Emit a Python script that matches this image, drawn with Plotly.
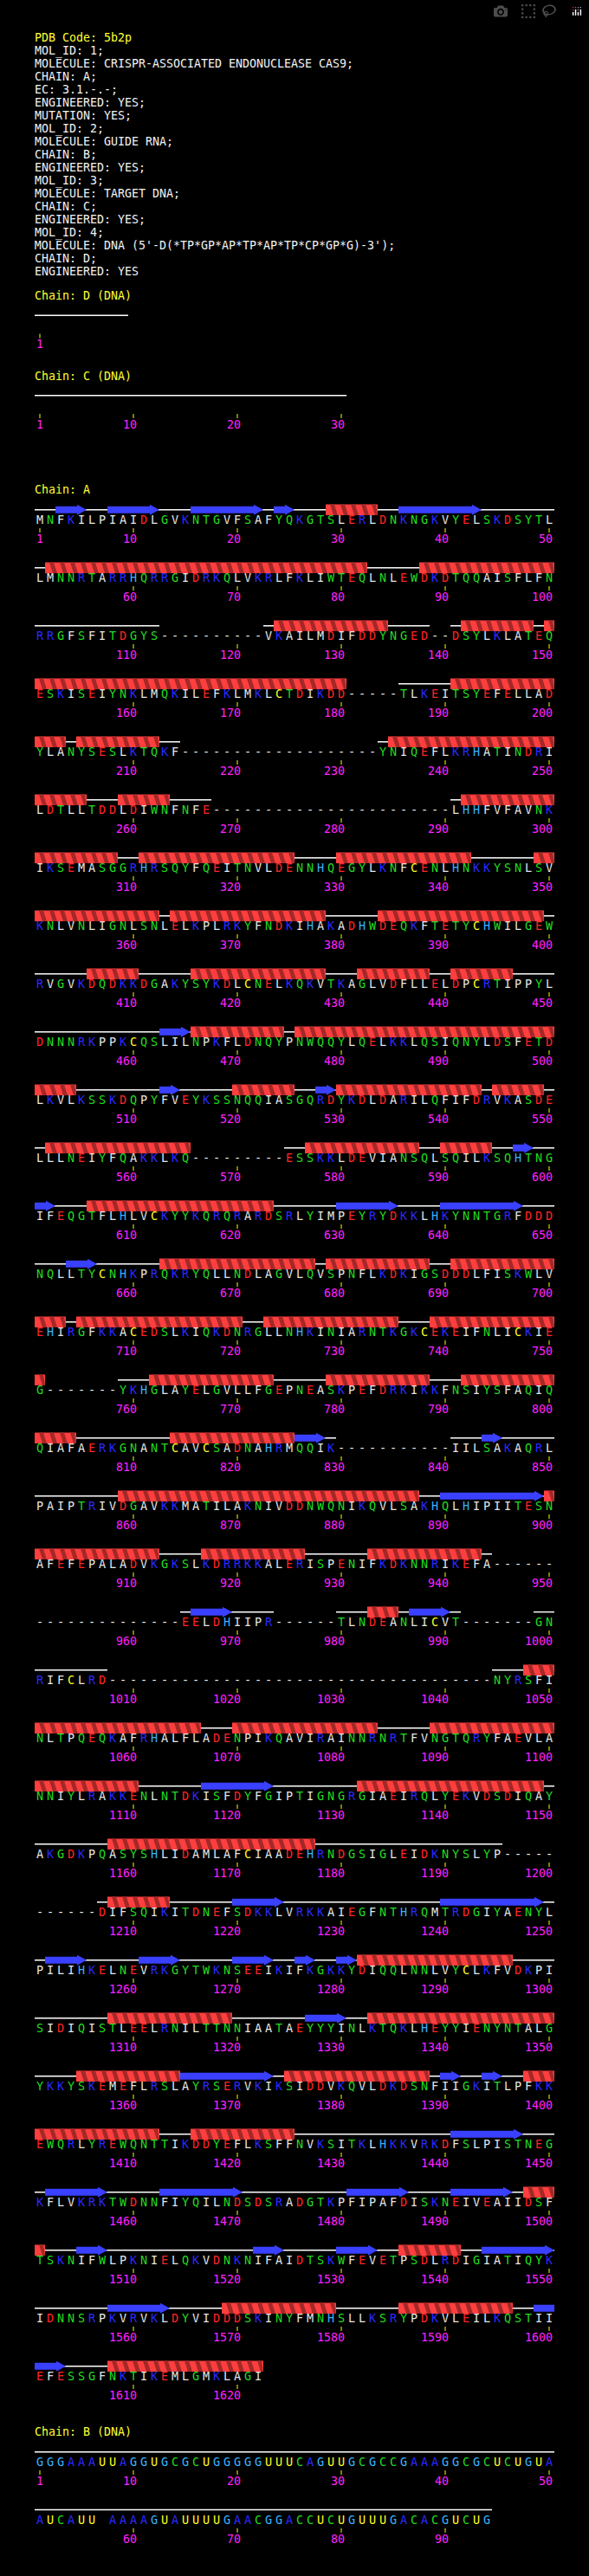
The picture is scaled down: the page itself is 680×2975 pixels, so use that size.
import plotly.graph_objects as go

pdb_code = "5b2p"
header_lines = [
    "MOL_ID: 1;",
    "MOLECULE: CRISPR-ASSOCIATED ENDONUCLEASE CAS9;",
    "CHAIN: A;",
    "EC: 3.1.-.-;",
    "ENGINEERED: YES;",
    "MUTATION: YES;",
    "MOL_ID: 2;",
    "MOLECULE: GUIDE RNA;",
    "CHAIN: B;",
    "ENGINEERED: YES;",
    "MOL_ID: 3;",
    "MOLECULE: TARGET DNA;",
    "CHAIN: C;",
    "ENGINEERED: YES;",
    "MOL_ID: 4;",
    "MOLECULE: DNA (5'-D(*TP*GP*AP*TP*AP*TP*CP*GP*G)-3');",
    "CHAIN: D;",
    "ENGINEERED: YES",
]

# chain A, 50 residues per row, '-' = residue not seen in the structure
chain_a_rows = [
    "MNFKILPIAIDLGVKNTGVFSAFYQKGTSLERLDNKNGKVYELSKDSYTL",
    "LMNNRTARRHQRRGIDRKQLVKRLFKLIWTEQLNLEWDKDTQQAISFLFN",
    "RRGFSFITDGYS" + "-" * 10 + "VKAILMDIFDDYNGED" + "--" + "DSYLKLATEQ",
    "ESKISEIYNKLMQKILEFKLMKLCTDIKDD" + "-" * 5 + "TLKEITSYEFELLAD",
    "YLANYSESLKTQKF" + "-" * 19 + "YNIQEFLKRHATINDRI",
    "LDTLLTDDLDIWNFNFE" + "-" * 23 + "LHHFVFAVNK",
    "IKSEMASGGRHRSQYFQEITNVLDENNHQEGYLKNFCENLHNKKYSNLSV",
    "KNLVNLIGNLSNLELKPLRKYFNDKIHAKADHWDEQKFTETYCHWILGEW",
    "RVGVKDQDKKDGAKYSYKDLCNELKQKVTKAGLVDFLLELDPCRTIPPYL",
    "DNNNRKPPKCQSLILNPKFLDNQYPNWQQYLQELKKLQSIQNYLDSFETD",
    "LKVLKSSKDQPYFVEYKSSNQQIASGQRDYKDLDARILQFIFDRVKASDE",
    "LLLNEIYFQAKKLKQ" + "-" * 9 + "ESSKKLDEVIANSQLSQILKSQHTNG",
    "IFEQGTFLHLVCKYYKQRQRARDSRLYIMPEYRYDKKLHKYNNTGRFDDD",
    "NQLLTYCNHKPRQKRYQLLNDLAGVLQVSPNFLKDKIGSDDDLFISKWLV",
    "EHIRGFKKACEDSLKIQKDNRGLLNHKINIARNTKGKCEKEIFNLICKIE",
    "G" + "-" * 7 + "YKHGLAYELGVLLFGEPNEASKPEFDRKIKKFNSIYSFAQIQ",
    "QIAFAERKGNANTCAVCSADNAHRMQQIK" + "-" * 11 + "IILSAKAQRL",
    "PAIPTRIVDGAVKKMATILAKNIVDDNWQNIKQVLSAKHQLHIPIITESN",
    "AFEFEPALADVKGKSLKDRRKKALERISPENIFKDKNNRIKEFA" + "-" * 6,
    "-" * 14 + "EELDHIIPR" + "-" * 6 + "TLNDEANLICVT" + "-" * 7 + "GN",
    "RIFCLRD" + "-" * 37 + "NYRSFI",
    "NLTPQEQKAFRHALFLADENPIKQAVIRAINNRNRTFVNGTQRYFAEVLA",
    "NNIYLRAKKENLNTDKISFDYFGIPTIGNGRGIAEIRQLYEKVDSDIQAY",
    "AKGDKPQASYSHLIDAMLAFCIAADEHRNDGSIGLEIDKNYSLYP" + "-" * 5,
    "-" * 6 + "DIFSQIKITDNEFSDKKLVRKKAIEGFNTHRQMTRDGIYAENYL",
    "PILIHKELNEVRKGYTWKNSEEIKIFKGKKYDIQQLNNLVYCLKFVDKPI",
    "SIDIQISTLEELRNILTTNNIAATAEYYYINLKTQKLHEYYIENYNTALG",
    "YKKYSKEMEFLRSLAYRSERVKIKSIDDVKQVLDKDSNFIIGKITLPFKK",
    "EWQRLYREWQNTTIKDDYEFLKSFFNVKSITKLHKKVRKDFSLPISTNEG",
    "KFLVKRKTWDNNFIYQILNDSDSRADGTKPFIPAFDISKNEIVEAIIDSF",
    "TSKNIFWLPKNIELQKVDNKNIFAIDTSKWFEVETPSDLRDIGIATIQYK",
    "IDNNSRPKVRVKLDYVIDDDSKINYFMNHSLLKSRYPDKVLEILKQSTII",
    "EFESSGFNKTIKEMLGMKLAGI",
]

# secondary structure of chain A (first, last residue)
chain_a_helices = [
    (29, 33), (52, 82), (88, 100), (124, 134), (142, 148), (150, 180), (191, 203),
    (205, 212), (235, 255), (259, 263), (292, 308), (311, 325), (330, 342), (349, 362),
    (364, 378), (384, 399), (406, 410), (416, 428), (432, 438), (441, 446), (466, 474),
    (476, 504), (520, 525), (530, 543), (545, 549), (552, 565), (577, 587), (590, 594),
    (606, 623), (663, 677), (679, 688), (691, 703), (705, 720), (723, 735), (739, 751),
    (762, 773), (779, 788), (792, 804), (814, 825), (859, 887), (900, 912), (917, 926),
    (933, 943), (983, 985), (1048, 1066), (1070, 1083), (1089, 1110), (1132, 1149),
    (1158, 1177), (1208, 1213), (1282, 1296), (1308, 1319), (1333, 1350), (1355, 1364),
    (1375, 1388), (1398, 1412), (1416, 1425), (1498, 1501), (1536, 1541), (1569, 1579),
    (1586, 1596), (1608, 1622),
]
chain_a_strands = [
    (3, 5), (8, 12), (16, 22), (24, 25), (36, 43), (463, 465), (513, 514), (528, 529),
    (597, 598), (601, 602), (630, 635), (640, 647), (654, 656), (826, 828), (844, 845),
    (890, 899), (966, 969), (987, 990), (1117, 1123), (1220, 1224), (1240, 1249),
    (1252, 1255), (1261, 1264), (1270, 1273), (1276, 1277), (1280, 1281), (1327, 1330),
    (1365, 1373), (1390, 1391), (1394, 1395), (1441, 1447), (1452, 1457), (1463, 1470),
    (1481, 1486), (1491, 1496), (1505, 1507), (1522, 1524), (1530, 1533), (1544, 1550),
    (1558, 1563), (1599, 1603),
]

# guide RNA (position 57 has no letter)
chain_b_seq = ("GGGAAAUUAGGUGCGCUGGGGGUUUCAGUUGCGCCGAAAGGCGCUCUGUA"
               "AUCAUU AAAAGUAUUUUGAACGGACCUCUGUUUGACACGUCUG")
chain_c_length = 30
chain_d_seq = "TGATATCGG"

aa_colors = {
    "#e6e6e6": "AVLIMFP",
    "#22dd22": "GSTNQYW",
    "#2a2aff": "KR",
    "#ff2424": "DE",
    "#36b4ff": "H",
    "#ffff22": "C",
}
nt_colors = {"A": "#2a2aff", "G": "#36b4ff", "U": "#ffff22", "C": "#22dd22", "T": "#ffff22"}

# layout of the page (pixels)
W, H = 680, 2975
X0, CELL, PER_ROW, ROW_H = 40, 12, 50, 67
MID = 13.3  # ribbon centre above the letter row
YELLOW, WHITE, MAGENTA = "#ffff33", "#f2f2f2", "#ff22ff"
HELIX_LIGHT, HELIX_DARK, STRAND_BLUE = "#ff3e3e", "#a32828", "#3a40ff"

coil_x, coil_y = [], []
band_x, band_y = [], []
stripe_x, stripe_y = [], []
arrow_x, arrow_y = [], []
tick_x, tick_y = [], []
let_x, let_y, let_t, let_c = [], [], [], []
num_x, num_y, num_t = [], [], []
txt_x, txt_y, txt_t, txt_c = [], [], [], []


def poly(xs, ys, px, py):
    xs += list(px) + [px[0], None]
    ys += list(py) + [py[0], None]


def add_text(s, x_left, y, color):
    txt_x.append(x_left + len(s) * 4)
    txt_y.append(y)
    txt_t.append(s)
    txt_c.append(color)


def helix(xa, xb, L):
    top, bot = L - MID - 6.3, L - MID + 6.3
    poly(band_x, band_y, [xa, xb, xb, xa], [top, top, bot, bot])
    c = xa
    while c < xb:
        px = [min(c + 5, xb), min(c + 10, xb), min(c + 14, xb), min(c + 9, xb)]
        poly(stripe_x, stripe_y, px, [top, top, bot, bot])
        c += CELL


def strand(xa, xb, L, head):
    y0 = L - MID
    if head:
        hx = xb - 11
        poly(arrow_x, arrow_y,
             [xa, hx, hx, xb, hx, hx, xa],
             [y0 - 4, y0 - 4, y0 - 6, y0, y0 + 6, y0 + 4, y0 + 4])
    else:
        poly(arrow_x, arrow_y, [xa, xb, xb, xa], [y0 - 4, y0 - 4, y0 + 4, y0 + 4])


def add_chain(n, first_L, ss, letters=None, colors=None, row_h=ROW_H):
    for r in range((n + PER_ROW - 1) // PER_ROW):
        L = first_L + r * row_h
        lo, hi = r * PER_ROW, min(n, (r + 1) * PER_ROW)
        k = lo
        while k < hi:
            if ss[k] == " ":
                k += 1
                continue
            j = k
            while j + 1 < hi and ss[j + 1] != " ":
                j += 1
            coil_x.extend([X0 + CELL * (k - lo), X0 + CELL * (j - lo + 1), None])
            coil_y.extend([L - MID, L - MID, None])
            k = j + 1
        k = lo
        while k < hi:
            t = ss[k]
            if t not in "HE":
                k += 1
                continue
            j = k
            while j + 1 < hi and ss[j + 1] == t:
                j += 1
            xa, xb = X0 + CELL * (k - lo), X0 + CELL * (j - lo + 1)
            if t == "H":
                helix(xa, xb, L)
            else:
                strand(xa, xb, L, j + 1 >= n or ss[j + 1] != "E")
            k = j + 1
        for k in range(lo, hi):
            x = X0 + CELL * (k - lo) + CELL / 2
            if letters is not None and letters[k] != " ":
                let_x.append(x)
                let_y.append(L)
                let_t.append(letters[k])
                let_c.append(colors[k])
            num = k + 1
            if num == 1 or num % 10 == 0:
                tick_x.extend([x, x, None])
                tick_y.extend([L + 8, L + 13, None])
                lab = str(num)
                num_x.append(x + 4 - 4 * len(lab))
                num_y.append(L + 21.5)
                num_t.append(lab)


# header
add_text("PDB Code: " + pdb_code, X0, 45, YELLOW)
for i, line in enumerate(header_lines):
    add_text(line, X0, 60 + 15 * i, WHITE)

# chain D
add_text("Chain: D (DNA)", X0, 343, YELLOW)
add_chain(len(chain_d_seq), 377.5, "-" * len(chain_d_seq))

# chain C
add_text("Chain: C (DNA)", X0, 436, YELLOW)
add_chain(chain_c_length, 470, "-" * chain_c_length)

# chain A
seq_a = "".join(chain_a_rows)
ss_a = [" " if c == "-" else "-" for c in seq_a]
for a, b in chain_a_helices:
    for i in range(a - 1, b):
        ss_a[i] = "H"
for a, b in chain_a_strands:
    for i in range(a - 1, b):
        ss_a[i] = "E"
col_a = []
for c in seq_a:
    col = WHITE
    for k, v in aa_colors.items():
        if c in v:
            col = k
    col_a.append(col)
add_text("Chain: A", X0, 566.7, YELLOW)
add_chain(len(seq_a), 602, ss_a, seq_a, col_a)

# chain B
add_text("Chain: B (DNA)", X0, 2809.7, YELLOW)
add_chain(len(chain_b_seq), 2845, "-" * len(chain_b_seq), chain_b_seq,
          [nt_colors.get(c, WHITE) for c in chain_b_seq], row_h=66.8)

MONO = "DejaVu Sans Mono"
fig = go.Figure()
fig.add_trace(go.Scatter(x=coil_x, y=coil_y, mode="lines",
                         line=dict(color="white", width=1.4)))
fig.add_trace(go.Scatter(x=band_x, y=band_y, mode="lines", fill="toself",
                         fillcolor=HELIX_LIGHT, line=dict(width=0)))
fig.add_trace(go.Scatter(x=stripe_x, y=stripe_y, mode="lines", fill="toself",
                         fillcolor=HELIX_DARK, line=dict(width=0)))
fig.add_trace(go.Scatter(x=arrow_x, y=arrow_y, mode="lines", fill="toself",
                         fillcolor=STRAND_BLUE, line=dict(width=0)))
fig.add_trace(go.Scatter(x=tick_x, y=tick_y, mode="lines",
                         line=dict(color="#ffff00", width=1)))
fig.add_trace(go.Scatter(x=let_x, y=let_y, mode="text", text=let_t,
                         textposition="middle center",
                         textfont=dict(family=MONO, size=13.5, color=let_c)))
fig.add_trace(go.Scatter(x=num_x, y=num_y, mode="text", text=num_t,
                         textposition="middle center",
                         textfont=dict(family=MONO, size=13.3, color=MAGENTA)))
fig.add_trace(go.Scatter(x=txt_x, y=txt_y, mode="text", text=txt_t,
                         textposition="middle center",
                         textfont=dict(family=MONO, size=13.3, color=txt_c)))

fig.update_layout(
    width=W, height=H,
    margin=dict(l=0, r=0, t=0, b=0),
    paper_bgcolor="black", plot_bgcolor="black",
    showlegend=False, hovermode=False,
    xaxis=dict(range=[0, W], visible=False, fixedrange=True),
    yaxis=dict(range=[H, 0], visible=False, fixedrange=True),
)
fig.write_html("out.html", post_script="document.body.style.margin='0';")
